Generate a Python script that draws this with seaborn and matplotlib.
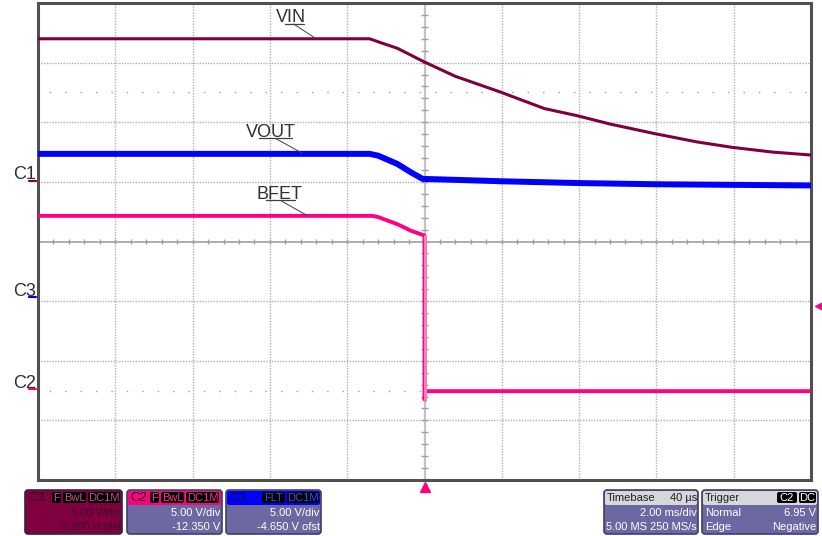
import numpy as np
import pandas as pd
import matplotlib
matplotlib.use("Agg")
import matplotlib.pyplot as plt
import matplotlib.transforms as mtransforms
from matplotlib.patches import FancyBboxPatch
import seaborn as sns

# time in ms (trigger at 0), values in volts
vin_t = [-10, -1.42, -1.2, -0.7, 0.0, 0.8, 1.95, 3.1, 3.95, 4.8, 5.95, 7.05, 7.95, 9.0, 10]
vin_v = [11.9, 11.9, 11.65, 11.1, 9.95, 8.75, 7.45, 6.05, 5.45, 4.75, 3.95, 3.25, 2.8, 2.4, 2.15]

vout_t = [-10, -1.42, -1.2, -0.7, -0.35, -0.05, 0.5, 2, 4, 6, 8, 10]
vout_v = [12.0, 12.0, 11.85, 11.15, 10.45, 9.9, 9.85, 9.7, 9.55, 9.45, 9.4, 9.35]

bfet_t = [-10, -1.35, -1.2, -0.7, -0.35, 0.0, 0.0, 0.03, 10]
bfet_v = [14.5, 14.5, 14.4, 13.8, 13.25, 12.85, -0.9, -0.2, -0.2]

# scope channel setup: V/div and offset
volts_per_div = 5.0
ofst = {"C1": 5.1, "C2": -12.35, "C3": -4.65}
trig_level = 6.95

col = {"C1": "#80003f", "C2": "#ff0080", "C3": "#0000ff"}

sns.set_theme(style="white")
plt.rcParams["font.family"] = ["Liberation Sans", "DejaVu Sans"]


def to_div(v, ch):
    return (np.asarray(v) + ofst[ch]) / volts_per_div


fig = plt.figure(figsize=(8.22, 5.36), dpi=100)
ax = fig.add_axes([38 / 822, 56 / 536, 773 / 822, 477 / 536])
ax.set_xlim(-10, 10)
ax.set_ylim(-4, 4)
ax.set_xticks([])
ax.set_yticks([])
for s in ax.spines.values():
    s.set_color("#505050")
    s.set_linewidth(2.2)

# graticule
grid_kw = dict(color="#b0b0b0", lw=1.0, ls=(0, (1, 1)), zorder=1)
for x in [-8, -6, -4, -2, 2, 4, 6, 8]:
    ax.axvline(x, **grid_kw)
for y in [-3, -2, -1, 1, 2, 3]:
    ax.axhline(y, **grid_kw)
ax.axvline(0, color="#c4c4c4", lw=1.6, zorder=1)
ax.axhline(0, color="#a0a0a0", lw=1.2, zorder=1)
for y in [2.5, -2.5]:
    ax.axhline(y, color="#a0a0a0", lw=1.0, ls=(3, (1, 10.1)), zorder=1)
minor_x = np.arange(-9.6, 10, 0.4)
ax.vlines(minor_x, -0.045, 0.045, color="#a0a0a0", lw=1.0, zorder=1)
minor_y = np.arange(-3.8, 4, 0.2)
ax.hlines(minor_y, -0.08, 0.08, color="#a0a0a0", lw=1.0, zorder=1)

# traces
traces = [("C1", vin_t, vin_v, 2.2), ("C3", vout_t, vout_v, 4.3), ("C2", bfet_t, bfet_v, 2.8)]
for ch, t, v, w in traces:
    df = pd.DataFrame({"t": t, "div": to_div(v, ch)})
    sns.lineplot(data=df, x="t", y="div", estimator=None, sort=False,
                 color=col[ch], lw=w, ax=ax, legend=False, zorder=3)
# lighter falling edge of BFET
ax.plot([0.0, 0.0], to_div([bfet_v[5], bfet_v[6]], "C2"), color="#f080b8", lw=2.2, zorder=4)
ax.set_xlabel("")
ax.set_ylabel("")

# trace labels with underline and leader
lab_kw = dict(fontsize=13, color="#303030", zorder=5)
labels = [("VIN", -3.85, 3.68, (-3.62, -3.13), 3.65, (-3.39, -2.85), (3.65, 3.42)),
          ("VOUT", -4.63, 1.745, (-4.27, -3.42), 1.73, (-3.86, -3.16), (1.73, 1.48)),
          ("BFET", -4.35, 0.705, (-4.11, -3.36), 0.69, (-3.73, -3.05), (0.69, 0.44))]
for txt, tx, ty, ul, uy, lx, ly in labels:
    ax.text(tx, ty, txt, ha="left", va="baseline", **lab_kw)
    ax.plot(ul, [uy, uy], color="#404040", lw=0.9, zorder=5)
    ax.plot(lx, ly, color="#404040", lw=0.7, zorder=5)

# channel ground markers on the left
blend = mtransforms.blended_transform_factory(ax.transAxes, ax.transData)
for ch in ["C1", "C3", "C2"]:
    pos = to_div(0, ch)
    ax.text(-0.003, pos + 0.02, ch, transform=blend, ha="right", va="baseline",
            fontsize=13, color="#303030")
    ax.plot([-0.012, -0.002], [pos, pos], transform=blend, color=col[ch],
            lw=1.6, clip_on=False)

# trigger markers
ax.plot([0], [-4.12], marker="^", ms=7, color="#ff0080", clip_on=False, zorder=6)
ax.plot([10.22], [to_div(trig_level, "C2")], marker="<", ms=7, color="#ff0080",
        clip_on=False, zorder=6)

# info panels along the bottom (pixel coordinates)
ov = fig.add_axes([0, 0, 1, 1], zorder=10)
ov.set_xlim(0, 822)
ov.set_ylim(536, 0)
ov.axis("off")
ov.patch.set_alpha(0)

slate = "#6c68a2"
fs = 8


def panel(x0, x1, body, head, edge):
    ov.add_patch(FancyBboxPatch((x0, 490), x1 - x0, 44, boxstyle="round,pad=0,rounding_size=3",
                                fc=body, ec=edge, lw=1.2))
    ov.add_patch(FancyBboxPatch((x0 + 1, 491), x1 - x0 - 2, 14, boxstyle="round,pad=0,rounding_size=2",
                                fc=head, ec="none"))


def tag(x0, x1, txt, tc):
    ov.add_patch(FancyBboxPatch((x0, 492), x1 - x0, 11, boxstyle="round,pad=0,rounding_size=2",
                                fc="black", ec="none"))
    ov.text((x0 + x1) / 2, 498, txt, ha="center", va="center", fontsize=fs, color=tc)


panel(25, 122, col["C1"], col["C1"], "#3a2040")
ov.text(29, 498, "C1", ha="left", va="center", fontsize=9.5, color="#2a0a18")
for a, b, s in [(52, 61, "F"), (63, 86, "BwL"), (88, 120, "DC1M")]:
    tag(a, b, s, "#c0508a")
ov.text(120, 513, "5.00 V/div", ha="right", va="center", fontsize=fs, color="#3a1028")
ov.text(121, 527, "5.100 V ofst", ha="right", va="center", fontsize=fs, color="#3a1028")

panel(127, 222, slate, col["C2"], "#40406a")
ov.text(130, 498, "C2", ha="left", va="center", fontsize=9.5, color="#1a0010")
for a, b, s in [(150, 159, "F"), (161, 184, "BwL"), (186, 219, "DC1M")]:
    tag(a, b, s, "#ff3090")
ov.text(220, 513, "5.00 V/div", ha="right", va="center", fontsize=fs, color="white")
ov.text(220, 527, "-12.350 V", ha="right", va="center", fontsize=fs, color="white")

panel(226, 321, slate, col["C3"], "#40406a")
ov.text(229, 498, "C3", ha="left", va="center", fontsize=9.5, color="#000040")
for a, b, s in [(262, 285, "FLT"), (287, 319, "DC1M")]:
    tag(a, b, s, "#3050ff")
ov.text(319, 513, "5.00 V/div", ha="right", va="center", fontsize=fs, color="white")
ov.text(320, 527, "-4.650 V ofst", ha="right", va="center", fontsize=fs, color="white")

panel(604, 698, slate, "#d6d6dc", "#40406a")
ov.text(607, 498, "Timebase", ha="left", va="center", fontsize=fs, color="#202020")
ov.text(697, 498, "40 µs", ha="right", va="center", fontsize=fs, color="#202020")
ov.text(697, 513, "2.00 ms/div", ha="right", va="center", fontsize=fs, color="white")
ov.text(606, 527, "5.00 MS", ha="left", va="center", fontsize=fs, color="white")
ov.text(697, 527, "250 MS/s", ha="right", va="center", fontsize=fs, color="white")

panel(702, 818, slate, "#d6d6dc", "#40406a")
ov.text(705, 498, "Trigger", ha="left", va="center", fontsize=fs, color="#202020")
tag(777, 797, "C2", "white")
tag(799, 816, "DC", "white")
ov.text(705, 513, "Normal", ha="left", va="center", fontsize=fs, color="white")
ov.text(816, 513, "6.95 V", ha="right", va="center", fontsize=fs, color="white")
ov.text(705, 527, "Edge", ha="left", va="center", fontsize=fs, color="white")
ov.text(816, 527, "Negative", ha="right", va="center", fontsize=fs, color="white")

fig.savefig("out.png", dpi=100)
